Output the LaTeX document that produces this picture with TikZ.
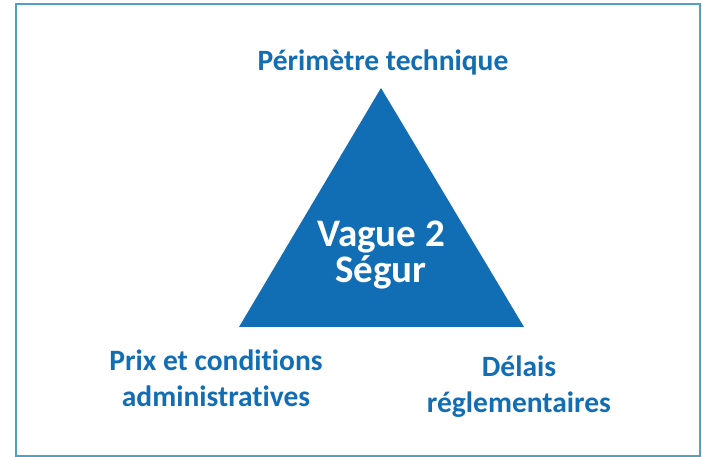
\documentclass[tikz,border=0pt]{standalone}
\usepackage{fontspec}
\setmainfont{Carlito}[Ligatures=NoCommon]
\usetikzlibrary{positioning}
\definecolor{segurblue}{RGB}{18,110,180}
\definecolor{framecol}{RGB}{80,160,195}
\tikzstyle{label}=[text=segurblue, font=\bfseries\fontsize{29.5}{36}\selectfont, align=center]
\tikzstyle{inside}=[text=white, font=\bfseries\fontsize{39}{36}\selectfont, align=center]

\begin{document}
\begin{tikzpicture}[x=1pt, y=-1pt]
          \useasboundingbox (0,0) rectangle (702,457);
          \draw[framecol, line width=2.5pt] (16,4) rectangle (700,456);

          \coordinate (top)   at (381,88);
          \coordinate (left)  at (239,327);
          \coordinate (right) at (524,327);
          \fill[segurblue] (top) -- (left) -- (right) -- cycle;

          \node[inside]          (vague) at (381,255) {Vague 2\\Ségur};
          \node[label]           (tech)  at (383,62)  {Périmètre technique};
          \node[label]           (prix)  at (216,378) {Prix et conditions\\administratives};
          \node[label]           (delai) at (519,387) {Délais\\réglementaires};
        \end{tikzpicture}
\end{document}
